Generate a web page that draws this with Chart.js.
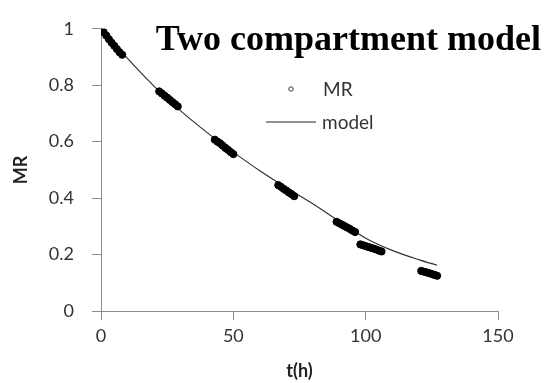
<!DOCTYPE html>
<html>
<head>
<meta charset="utf-8">
<script src="https://cdn.jsdelivr.net/npm/chart.js@4.4.1/dist/chart.umd.min.js"></script>
<style>
    html, body { margin: 0; padding: 0; background: #ffffff; }
    #box { width: 547px; height: 383px; }
</style>
</head>
<body>
<div id="box"><canvas id="grafico"></canvas></div>
<script>
const tempoMR = [
    0, 1, 2, 3, 4, 5, 6, 7, 8,
    22, 23, 24, 25, 26, 27, 28, 29,
    43, 44, 45, 46, 47, 48, 49, 50,
    67, 68, 69, 70, 71, 72, 73,
    89, 90, 91, 92, 93, 94, 95, 96,
    98, 99, 100, 101, 102, 103, 104, 105, 106,
    121, 122, 123, 124, 125, 126, 127
];
const valoresMR = [
    1.0, 0.988, 0.976, 0.963, 0.951, 0.94, 0.928, 0.917, 0.908,
    0.778, 0.771, 0.763, 0.756, 0.748, 0.74, 0.733, 0.725,
    0.607, 0.6, 0.594, 0.586, 0.578, 0.571, 0.563, 0.556,
    0.446, 0.44, 0.433, 0.427, 0.42, 0.414, 0.407,
    0.316, 0.311, 0.306, 0.301, 0.296, 0.291, 0.285, 0.28,
    0.236, 0.233, 0.23, 0.227, 0.224, 0.221, 0.218, 0.214, 0.211,
    0.142, 0.139, 0.137, 0.134, 0.131, 0.128, 0.125
];

// two compartment model curve
const tempoModelo = [0, 10, 20, 30, 40, 50, 60, 70, 80, 90, 100, 110, 120, 127];
const valoresModelo = [1.0, 0.895, 0.797, 0.71, 0.633, 0.563, 0.497, 0.437, 0.38, 0.318, 0.258, 0.215, 0.182, 0.162];

const ticksX = [0, 50, 100, 150];
const ticksY = [0, 0.2, 0.4, 0.6, 0.8, 1];

const titulo = "Two compartment model";
const legendaMR = "MR";
const legendaModelo = "model";

const fonteTexto = "Lato, 'Open Sans', sans-serif";

function montarPontos(xs, ys) {
    return xs.map((x, i) => ({ x: x, y: ys[i] }));
}

// title + legend are drawn inside the plot area, like the original
const pluginTextos = {
    id: "textosInternos",
    afterDraw(chart) {
        const ctx = chart.ctx;
        ctx.save();

        ctx.fillStyle = "#000000";
        ctx.font = "bold 36px 'Liberation Serif', 'Times New Roman', serif";
        ctx.textAlign = "right";
        ctx.textBaseline = "alphabetic";
        ctx.fillText(titulo, 541, 50);

        // legend
        ctx.font = "19px " + fonteTexto;
        ctx.textAlign = "left";
        ctx.textBaseline = "middle";
        ctx.fillStyle = "#333333";

        ctx.beginPath();
        ctx.arc(291, 89, 2.2, 0, Math.PI * 2);
        ctx.strokeStyle = "#333333";
        ctx.lineWidth = 1;
        ctx.stroke();
        ctx.fillText(legendaMR, 323, 90);

        ctx.beginPath();
        ctx.moveTo(266, 122);
        ctx.lineTo(316, 122);
        ctx.strokeStyle = "#222222";
        ctx.lineWidth = 1;
        ctx.stroke();
        ctx.fillText(legendaModelo, 322, 123);

        ctx.restore();
    }
};

new Chart(document.getElementById("grafico"), {
    type: "scatter",
    data: {
        datasets: [
            {
                label: legendaMR,
                data: montarPontos(tempoMR, valoresMR),
                pointRadius: 3.6,
                pointBorderWidth: 1,
                pointBackgroundColor: "#000000",
                pointBorderColor: "#000000",
                showLine: false
            },
            {
                label: legendaModelo,
                data: montarPontos(tempoModelo, valoresModelo),
                showLine: true,
                borderColor: "#333333",
                borderWidth: 1.2,
                pointRadius: 0,
                cubicInterpolationMode: "monotone",
                fill: false
            }
        ]
    },
    options: {
        responsive: true,
        maintainAspectRatio: false,
        animation: false,
        layout: {
            padding: { top: 21, right: 49, left: 0, bottom: 0 }
        },
        plugins: {
            legend: { display: false },
            tooltip: { enabled: false }
        },
        scales: {
            x: {
                type: "linear",
                min: 0,
                max: 150,
                afterBuildTicks: escala => {
                    escala.ticks = ticksX.map(v => ({ value: v }));
                },
                afterFit: escala => { escala.height = 72; },
                border: { display: true, color: "#8c8c8c", width: 1 },
                grid: {
                    drawOnChartArea: false,
                    drawTicks: true,
                    tickLength: 9,
                    color: "#8c8c8c"
                },
                ticks: {
                    color: "#333333",
                    padding: 5,
                    font: { family: fonteTexto, size: 18 }
                },
                title: {
                    display: true,
                    text: "t(h)",
                    color: "#222222",
                    padding: { top: 0, bottom: 1 },
                    font: { family: fonteTexto, size: 18, weight: "bold" }
                }
            },
            y: {
                type: "linear",
                min: 0,
                max: 1,
                afterBuildTicks: escala => {
                    escala.ticks = ticksY.map(v => ({ value: v }));
                },
                afterFit: escala => { escala.width = 101; },
                border: { display: true, color: "#8c8c8c", width: 1 },
                grid: {
                    drawOnChartArea: false,
                    drawTicks: true,
                    tickLength: 9,
                    color: "#8c8c8c"
                },
                ticks: {
                    color: "#333333",
                    padding: 18,
                    font: { family: fonteTexto, size: 18 },
                    callback: v => String(v)
                },
                title: {
                    display: true,
                    text: "MR",
                    color: "#222222",
                    padding: { top: 10, bottom: 0 },
                    font: { family: fonteTexto, size: 18, weight: "bold" }
                }
            }
        }
    },
    plugins: [pluginTextos]
});
</script>
</body>
</html>
